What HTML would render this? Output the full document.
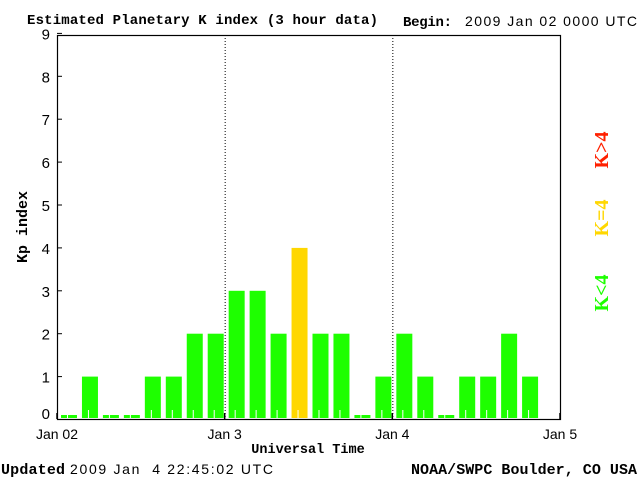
<!DOCTYPE html>
<html><head><meta charset="utf-8"><style>
body{margin:0;background:#fff;}
</style></head><body>
<svg width="640" height="480" xmlns="http://www.w3.org/2000/svg" font-family="Liberation Sans, sans-serif">
<rect width="640" height="480" fill="#fff"/>
<text x="27" y="24" style="font-family:'Liberation Mono',monospace" font-weight="bold" font-size="14" textLength="351">Estimated Planetary K index (3 hour data)</text>
<text x="403" y="26" style="font-family:'Liberation Mono',monospace" font-weight="bold" font-size="14" textLength="49">Begin:</text>
<text x="465" y="26" font-size="14" textLength="172">2009 Jan 02 0000 UTC</text>
<g id="bars"></g>
<g id="axes"></g>
<text x="27" y="227" style="font-family:'Liberation Mono',monospace" font-weight="bold" font-size="15" text-anchor="middle" transform="rotate(-90 27 227)">Kp index</text>
<text x="308" y="453" style="font-family:'Liberation Mono',monospace" font-weight="bold" font-size="13.5" text-anchor="middle">Universal Time</text>
<text x="1" y="474" style="font-family:'Liberation Mono',monospace" font-weight="bold" font-size="15" textLength="64">Updated</text>
<text x="70" y="474" font-size="14" xml:space="preserve" textLength="203">2009 Jan  4 22:45:02 UTC</text>
<text x="411" y="474" style="font-family:'Liberation Mono',monospace" font-weight="bold" font-size="15" textLength="226">NOAA/SWPC Boulder, CO USA</text>
<text x="608" y="150" style="font-family:'Liberation Serif',serif" font-weight="bold" font-size="20" fill="#ff2000" text-anchor="middle" transform="rotate(-90 608 150)">K&gt;4</text>
<text x="608" y="218" style="font-family:'Liberation Serif',serif" font-weight="bold" font-size="20" fill="#ffd700" text-anchor="middle" transform="rotate(-90 608 218)">K=4</text>
<text x="608" y="293" style="font-family:'Liberation Serif',serif" font-weight="bold" font-size="20" fill="#1eff00" text-anchor="middle" transform="rotate(-90 608 293)">K&lt;4</text>
</svg>
<script>
const kpValues=[0,1,0,0,1,1,2,2,3,3,2,4,2,2,0,1,2,1,0,1,1,2,1];
const yTicks=[0,1,2,3,4,5,6,7,8,9];
const dayLabels=["Jan 02","Jan 3","Jan 4","Jan 5"];
const NS="http://www.w3.org/2000/svg";
const L=57,R=560,T=35,B=419;
const slotsTotal=24;
const xs=i=>L+(R-L)*i/slotsTotal;
const ys=v=>419.5-42.9*v;
function mk(tag,attrs,parent){const e=document.createElementNS(NS,tag);for(const k in attrs)e.setAttribute(k,attrs[k]);parent.appendChild(e);return e;}
const bars=document.getElementById('bars'),axes=document.getElementById('axes');
kpValues.forEach((v,i)=>{
  const x=xs(i)+4,w=16;
  const top=v===0?415:ys(v);
  const col=v>4?'#ff2000':(v===4?'#ffd700':'#1eff00');
  const r=mk('rect',{x:x,y:top,width:w,height:418-top,fill:col},bars);
  
  
  mk('line',{x1:xs(i)+10.5,x2:xs(i)+10.5,y1:410,y2:418,stroke:'#fff','stroke-width':1},bars);
});
[1,2].forEach(d=>{const x=xs(d*8)+0.5;const l=mk('line',{x1:x,x2:x,y1:T,y2:B,stroke:'#000','stroke-dasharray':'1,2'},axes);

});
const f=mk('rect',{x:L+0.5,y:T+0.5,width:R-L,height:B-T,fill:'none',stroke:'#000','stroke-width':1.2},axes);


yTicks.forEach(v=>{const y=ys(v);
  mk('line',{x1:L,x2:L+5,y1:y,y2:y,stroke:'#000'},axes);
  const t=mk('text',{x:50,y:Math.min(y+6,419),'text-anchor':'end','font-size':15},axes);t.textContent=v;
  
  });
dayLabels.forEach((s,d)=>{const x=xs(d*8);
  mk('line',{x1:x,x2:x,y1:B,y2:B-6,stroke:'#000','stroke-width':1.5},axes);
  const t=mk('text',{x:x,y:439,'text-anchor':'middle','font-size':14},axes);t.textContent=s;
  
  });
</script>
</body></html>
